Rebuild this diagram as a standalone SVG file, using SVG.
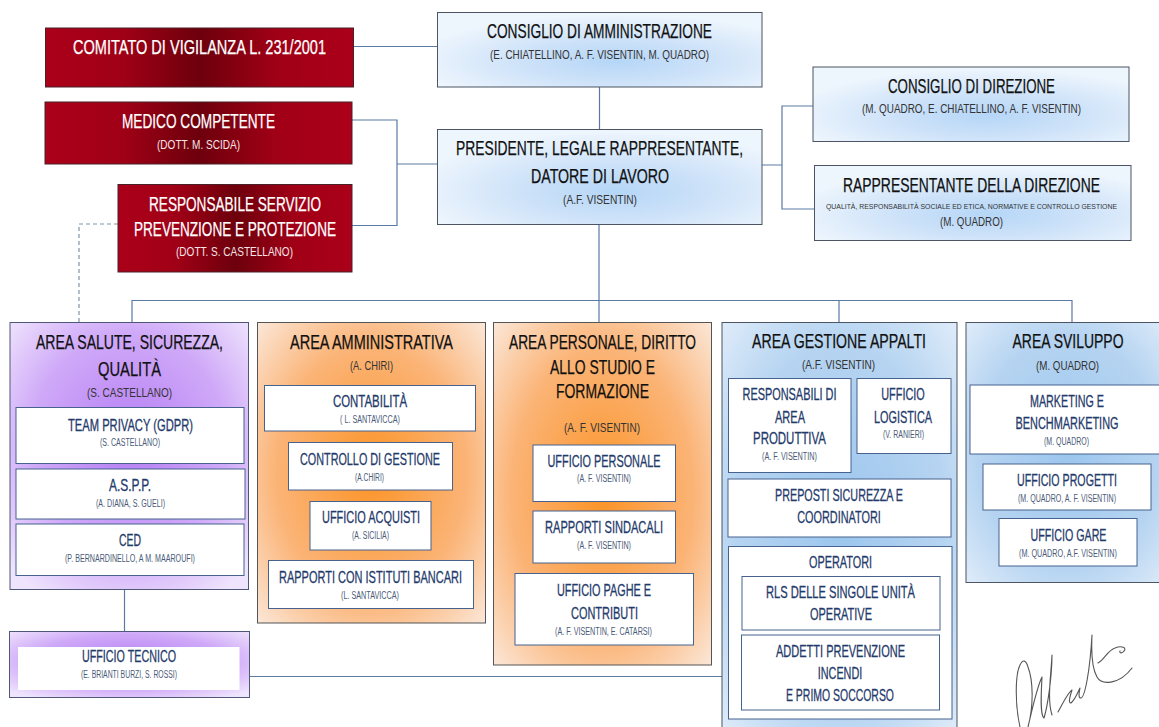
<svg xmlns="http://www.w3.org/2000/svg" width="1159" height="727" viewBox="0 0 1159 727">
<style>
text{font-family:"Liberation Sans Narrow","Liberation Sans",Arial,sans-serif;fill:#111;text-anchor:middle}
.a{font-size:20px;stroke:#111;stroke-width:.25}.b{font-size:12px;fill:#333}.m{font-size:13px;fill:#333}.x{font-size:8px;fill:#333}.c{font-size:17px;fill:#1f3a6b;stroke:#1f3a6b;stroke-width:.3}.d{font-size:10px;fill:#4a5a78}
.a.w{fill:#fff;stroke:#fff}.wb{fill:#f4e4e6}
.red{fill:url(#gr);stroke:#4a2028;stroke-width:1}
.blu{fill:url(#gb);stroke:#4b5563;stroke-width:1}
.pur{fill:url(#gp);stroke:#4f5878;stroke-width:1}
.ora{fill:url(#go);stroke:#555;stroke-width:1}
.sky{fill:url(#gs);stroke:#4b5563;stroke-width:1}
.box{fill:#fff;stroke:#47628f;stroke-width:1}
.con{fill:none;stroke:#5b7aa3;stroke-width:1.2}
.dash{fill:none;stroke:#7f93ab;stroke-width:1.2;stroke-dasharray:4 3}
</style>
<defs>
<linearGradient id="gr"><stop offset="0" stop-color="#ab0019"/><stop offset=".25" stop-color="#a00016"/><stop offset=".5" stop-color="#6d000c"/><stop offset=".75" stop-color="#a00016"/><stop offset="1" stop-color="#ab0019"/></linearGradient>
<radialGradient id="gb" cx=".55" cy=".65" r=".62"><stop offset="0" stop-color="#b5d6f7"/><stop offset=".5" stop-color="#cfe3f9"/><stop offset="1" stop-color="#edf5fd"/></radialGradient>
<radialGradient id="gp" cx=".5" cy=".45" r=".68"><stop offset="0" stop-color="#b57df4"/><stop offset=".6" stop-color="#cfa9f8"/><stop offset="1" stop-color="#efe4fd"/></radialGradient>
<radialGradient id="go" cx=".5" cy=".5" r=".7"><stop offset="0" stop-color="#fb9326"/><stop offset=".6" stop-color="#fbb477"/><stop offset="1" stop-color="#fbe6d6"/></radialGradient>
<radialGradient id="gs" cx=".5" cy=".5" r=".75"><stop offset="0" stop-color="#9cc6ee"/><stop offset=".6" stop-color="#b6d4f1"/><stop offset="1" stop-color="#e6f0fb"/></radialGradient>
</defs>
<rect width="1159" height="727" fill="#fff"/>
<g id="connectors">
<path class="con" d="M353 46.500H437M352 120H397V225.500H352M397 164H437M599.500 87V129M762 165H782M813 106H782V209H814M599 224V322M132 322V300.500H1072V322M839 300V322M124.500 589V631M249 676.500H722"/>
<path class="dash" d="M118 224H79V322"/>
</g>
<g id="comitato"><rect class="red" x="45.500" y="28" width="308" height="59"/><text class="a w" x="199.500" y="54" textLength="253" lengthAdjust="spacingAndGlyphs">COMITATO DI VIGILANZA L. 231/2001</text></g>
<g id="medico"><rect class="red" x="45" y="102" width="307" height="62"/><text class="a w" x="198.500" y="128" textLength="153" lengthAdjust="spacingAndGlyphs">MEDICO COMPETENTE</text><text class="b wb" x="198.500" y="149" textLength="83" lengthAdjust="spacingAndGlyphs">(DOTT. M. SCIDA)</text></g>
<g id="rspp"><rect class="red" x="118" y="184.500" width="234" height="87.500"/><text class="a w" x="235" y="211" textLength="172" lengthAdjust="spacingAndGlyphs">RESPONSABILE SERVIZIO</text><text class="a w" x="235" y="236" textLength="202" lengthAdjust="spacingAndGlyphs">PREVENZIONE E PROTEZIONE</text><text class="b wb" x="234.500" y="256" textLength="117" lengthAdjust="spacingAndGlyphs">(DOTT. S. CASTELLANO)</text></g>
<g id="cda"><rect class="blu" x="437.500" y="12.500" width="324.500" height="74.500"/><text class="a" x="599.500" y="38" textLength="225" lengthAdjust="spacingAndGlyphs">CONSIGLIO DI AMMINISTRAZIONE</text><text class="b" x="599.500" y="59" textLength="219" lengthAdjust="spacingAndGlyphs">(E. CHIATELLINO, A. F. VISENTIN, M. QUADRO)</text></g>
<g id="presidente"><rect class="blu" x="437.500" y="129.500" width="324.500" height="95"/><text class="a" x="599.500" y="155" textLength="287" lengthAdjust="spacingAndGlyphs">PRESIDENTE, LEGALE RAPPRESENTANTE,</text><text class="a" x="600" y="183" textLength="138" lengthAdjust="spacingAndGlyphs">DATORE DI LAVORO</text><text class="b" x="600" y="204" textLength="74" lengthAdjust="spacingAndGlyphs">(A.F. VISENTIN)</text></g>
<g id="cdd"><rect class="blu" x="813" y="67" width="316" height="74.500"/><text class="a" x="971.500" y="93" textLength="167" lengthAdjust="spacingAndGlyphs">CONSIGLIO DI DIREZIONE</text><text class="b" x="971.500" y="113" textLength="219" lengthAdjust="spacingAndGlyphs">(M. QUADRO, E. CHIATELLINO, A. F. VISENTIN)</text></g>
<g id="rdd"><rect class="blu" x="814.500" y="165.500" width="316.500" height="75"/><text class="a" x="971.500" y="192" textLength="257" lengthAdjust="spacingAndGlyphs">RAPPRESENTANTE DELLA DIREZIONE</text><text class="x" x="971.500" y="209" textLength="291" lengthAdjust="spacingAndGlyphs">QUALITÀ, RESPONSABILITÀ SOCIALE ED ETICA, NORMATIVE E CONTROLLO GESTIONE</text><text class="b" x="971.500" y="226" textLength="63" lengthAdjust="spacingAndGlyphs">(M. QUADRO)</text></g>
<g id="area-salute"><rect class="pur" x="10" y="322.500" width="238.500" height="267"/><text class="a" x="129.500" y="349" textLength="187" lengthAdjust="spacingAndGlyphs">AREA SALUTE, SICUREZZA,</text><text class="a" x="129.500" y="376" textLength="63" lengthAdjust="spacingAndGlyphs">QUALITÀ</text><text class="m" x="129.500" y="397" textLength="85" lengthAdjust="spacingAndGlyphs">(S. CASTELLANO)</text>
<g id="team-privacy"><rect class="box" x="16" y="407.500" width="228" height="56"/><text class="c" x="130.500" y="431" textLength="125" lengthAdjust="spacingAndGlyphs">TEAM PRIVACY (GDPR)</text><text class="d" x="130" y="446" textLength="60" lengthAdjust="spacingAndGlyphs">(S. CASTELLANO)</text></g>
<g id="aspp"><rect class="box" x="16" y="469" width="229" height="50"/><text class="c" x="130" y="491" textLength="42" lengthAdjust="spacingAndGlyphs">A.S.P.P.</text><text class="d" x="130.500" y="507" textLength="69" lengthAdjust="spacingAndGlyphs">(A. DIANA, S. GUELI)</text></g>
<g id="ced"><rect class="box" x="16" y="524" width="228" height="51.500"/><text class="c" x="130" y="546" textLength="22" lengthAdjust="spacingAndGlyphs">CED</text><text class="d" x="130" y="562" textLength="130" lengthAdjust="spacingAndGlyphs">(P. BERNARDINELLO, A M. MAAROUFI)</text></g></g>
<g id="ufficio-tecnico"><rect class="pur" x="9.500" y="631.500" width="240" height="66"/><rect x="18" y="647" width="221.500" height="43" fill="#fff"/><text class="c" x="129" y="662" textLength="94" lengthAdjust="spacingAndGlyphs">UFFICIO TECNICO</text><text class="d" x="129" y="678" textLength="96" lengthAdjust="spacingAndGlyphs">(E. BRIANTI BURZI, S. ROSSI)</text></g>
<g id="area-amministrativa"><rect class="ora" x="257.500" y="322.500" width="228" height="300.500"/><text class="a" x="371.500" y="349" textLength="163" lengthAdjust="spacingAndGlyphs">AREA AMMINISTRATIVA</text><text class="m" x="371.500" y="370" textLength="43" lengthAdjust="spacingAndGlyphs">(A. CHIRI)</text>
<g id="contabilita"><rect class="box" x="264.500" y="385.500" width="211" height="45.500"/><text class="c" x="370" y="407" textLength="74" lengthAdjust="spacingAndGlyphs">CONTABILITÀ</text><text class="d" x="370" y="423" textLength="60" lengthAdjust="spacingAndGlyphs">( L. SANTAVICCA)</text></g>
<g id="controllo"><rect class="box" x="288.500" y="442.500" width="164" height="47.500"/><text class="c" x="370" y="465" textLength="140" lengthAdjust="spacingAndGlyphs">CONTROLLO DI GESTIONE</text><text class="d" x="369.500" y="481" textLength="29" lengthAdjust="spacingAndGlyphs">(A.CHIRI)</text></g>
<g id="acquisti"><rect class="box" x="310" y="501.500" width="121" height="48.500"/><text class="c" x="371" y="523" textLength="98" lengthAdjust="spacingAndGlyphs">UFFICIO ACQUISTI</text><text class="d" x="370.500" y="539" textLength="37" lengthAdjust="spacingAndGlyphs">(A. SICILIA)</text></g>
<g id="bancari"><rect class="box" x="268.500" y="560.500" width="205" height="48"/><text class="c" x="370.500" y="583" textLength="183" lengthAdjust="spacingAndGlyphs">RAPPORTI CON ISTITUTI BANCARI</text><text class="d" x="370" y="599" textLength="58" lengthAdjust="spacingAndGlyphs">(L. SANTAVICCA)</text></g></g>
<g id="area-personale"><rect class="ora" x="493.500" y="322.500" width="218" height="342.500"/><text class="a" x="602.500" y="349" textLength="187" lengthAdjust="spacingAndGlyphs">AREA PERSONALE, DIRITTO</text><text class="a" x="602.500" y="374" textLength="105" lengthAdjust="spacingAndGlyphs">ALLO STUDIO E</text><text class="a" x="602.500" y="398" textLength="93" lengthAdjust="spacingAndGlyphs">FORMAZIONE</text><text class="m" x="602" y="432" textLength="76" lengthAdjust="spacingAndGlyphs">(A. F. VISENTIN)</text>
<g id="uff-personale"><rect class="box" x="533" y="445" width="142.500" height="56.500"/><text class="c" x="604" y="467" textLength="113" lengthAdjust="spacingAndGlyphs">UFFICIO PERSONALE</text><text class="d" x="604" y="482" textLength="54" lengthAdjust="spacingAndGlyphs">(A. F. VISENTIN)</text></g>
<g id="sindacali"><rect class="box" x="533" y="511" width="142.500" height="52"/><text class="c" x="604" y="533" textLength="118" lengthAdjust="spacingAndGlyphs">RAPPORTI SINDACALI</text><text class="d" x="604" y="549" textLength="54" lengthAdjust="spacingAndGlyphs">(A. F. VISENTIN)</text></g>
<g id="paghe"><rect class="box" x="515" y="573.500" width="178.500" height="71.500"/><text class="c" x="604" y="596" textLength="94" lengthAdjust="spacingAndGlyphs">UFFICIO PAGHE E</text><text class="c" x="604.500" y="619" textLength="67" lengthAdjust="spacingAndGlyphs">CONTRIBUTI</text><text class="d" x="603.500" y="635" textLength="97" lengthAdjust="spacingAndGlyphs">(A. F. VISENTIN, E. CATARSI)</text></g></g>
<g id="area-appalti"><rect class="sky" x="722" y="322.500" width="235" height="410"/><text class="a" x="839" y="348" textLength="174" lengthAdjust="spacingAndGlyphs">AREA GESTIONE APPALTI</text><text class="m" x="838.500" y="369" textLength="73" lengthAdjust="spacingAndGlyphs">(A.F. VISENTIN)</text>
<g id="responsabili"><rect class="box" x="728.500" y="378.500" width="122.500" height="94"/><text class="c" x="789.500" y="400" textLength="94" lengthAdjust="spacingAndGlyphs">RESPONSABILI DI</text><text class="c" x="790" y="423" textLength="30" lengthAdjust="spacingAndGlyphs">AREA</text><text class="c" x="789.500" y="444" textLength="73" lengthAdjust="spacingAndGlyphs">PRODUTTIVA</text><text class="d" x="789.500" y="460" textLength="55" lengthAdjust="spacingAndGlyphs">(A. F. VISENTIN)</text></g>
<g id="logistica"><rect class="box" x="857" y="378.500" width="94" height="75"/><text class="c" x="903" y="400" textLength="43.500" lengthAdjust="spacingAndGlyphs">UFFICIO</text><text class="c" x="903" y="423" textLength="58" lengthAdjust="spacingAndGlyphs">LOGISTICA</text><text class="d" x="903.500" y="438" textLength="41" lengthAdjust="spacingAndGlyphs">(V. RANIERI)</text></g>
<g id="preposti"><rect class="box" x="728" y="479" width="223" height="58"/><text class="c" x="839" y="501" textLength="128" lengthAdjust="spacingAndGlyphs">PREPOSTI SICUREZZA E</text><text class="c" x="839" y="523" textLength="83.500" lengthAdjust="spacingAndGlyphs">COORDINATORI</text></g>
<g id="operatori"><rect class="box" x="728.500" y="546.500" width="223.500" height="172.500"/><text class="c" x="840.500" y="568" textLength="63" lengthAdjust="spacingAndGlyphs">OPERATORI</text>
<g id="rls"><rect class="box" x="742" y="576.500" width="198" height="53.500"/><text class="c" x="840.500" y="598" textLength="149" lengthAdjust="spacingAndGlyphs">RLS DELLE SINGOLE UNITÀ</text><text class="c" x="841" y="620" textLength="62" lengthAdjust="spacingAndGlyphs">OPERATIVE</text></g>
<g id="addetti"><rect class="box" x="741.500" y="635" width="198" height="75"/><text class="c" x="840.500" y="657" textLength="129" lengthAdjust="spacingAndGlyphs">ADDETTI PREVENZIONE</text><text class="c" x="840" y="679" textLength="44.500" lengthAdjust="spacingAndGlyphs">INCENDI</text><text class="c" x="840" y="701" textLength="108" lengthAdjust="spacingAndGlyphs">E PRIMO SOCCORSO</text></g></g></g>
<g id="area-sviluppo"><rect class="sky" x="966" y="322.500" width="205" height="260"/><text class="a" x="1068" y="348" textLength="111" lengthAdjust="spacingAndGlyphs">AREA SVILUPPO</text><text class="m" x="1067.500" y="370" textLength="63" lengthAdjust="spacingAndGlyphs">(M. QUADRO)</text>
<g id="marketing"><rect class="box" x="970" y="385" width="200" height="69"/><text class="c" x="1067" y="407" textLength="74" lengthAdjust="spacingAndGlyphs">MARKETING E</text><text class="c" x="1067" y="429" textLength="103" lengthAdjust="spacingAndGlyphs">BENCHMARKETING</text><text class="d" x="1066.500" y="445" textLength="45" lengthAdjust="spacingAndGlyphs">(M. QUADRO)</text></g>
<g id="progetti"><rect class="box" x="983" y="464" width="168" height="46"/><text class="c" x="1067" y="486" textLength="100" lengthAdjust="spacingAndGlyphs">UFFICIO PROGETTI</text><text class="d" x="1067" y="502" textLength="98" lengthAdjust="spacingAndGlyphs">(M. QUADRO, A. F. VISENTIN)</text></g>
<g id="gare"><rect class="box" x="999" y="518.500" width="138" height="47.500"/><text class="c" x="1068.500" y="541" textLength="76" lengthAdjust="spacingAndGlyphs">UFFICIO GARE</text><text class="d" x="1068" y="557" textLength="98" lengthAdjust="spacingAndGlyphs">(M. QUADRO, A.F. VISENTIN)</text></g></g>
<path id="firma" fill="none" stroke="#555" stroke-width="1.1" stroke-linecap="round" stroke-linejoin="round" d="M1020 727C1015 705 1015 675 1020 665C1023 659 1026 660 1028 667C1033 680 1034 705 1028 727C1033 705 1038 685 1042 677C1041 695 1040 715 1044 718C1048 705 1052 675 1052 655C1051 675 1047 700 1052 715M1058 712C1062 705 1068 692 1072 690C1070 696 1068 703 1071 703C1075 700 1078 692 1080 688C1079 693 1078 698 1081 698C1085 697 1090 670 1092 635C1091 655 1093 670 1097 677C1102 686 1120 684 1132 668M1098 663C1104 660 1108 650 1115 648C1122 645 1127 648 1124 651C1122 654 1119 653 1120 651"/>
</svg>
